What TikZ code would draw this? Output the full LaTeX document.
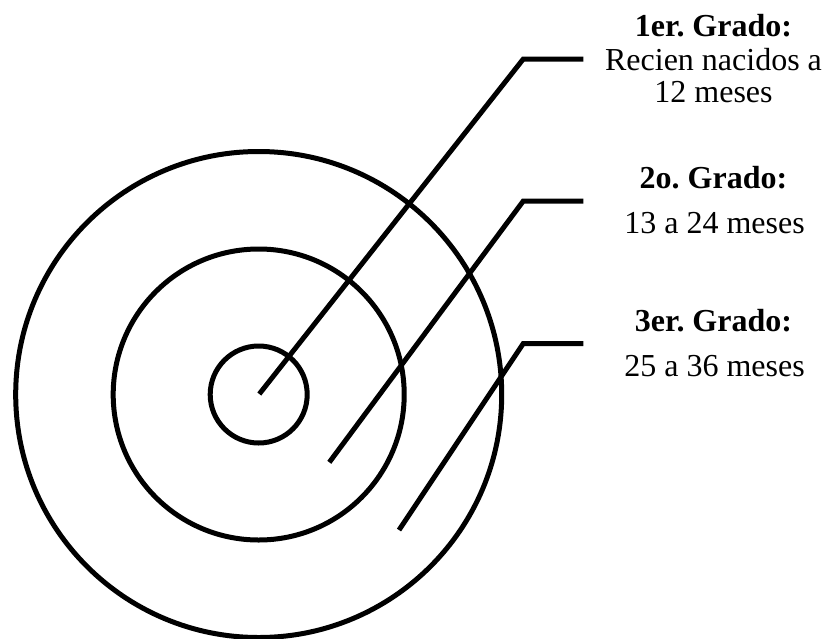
\documentclass[tikz,border=0pt]{standalone}
\usepackage{fontspec}
\setmainfont{Liberation Serif}
\frenchspacing
\begin{document}
\begin{tikzpicture}[x=1pt,y=-1pt,
  ring/.style={draw=black,line width=5pt},
  leader/.style={draw=black,line width=5pt},
  lbl/.style={anchor=base,inner sep=0pt,font=\fontsize{32}{34}\selectfont}]
\useasboundingbox (0,0) rectangle (825,638);
\coordinate (ctr) at (258.7,394.5);
\draw[ring] (ctr) circle[radius=243];
\draw[ring] (ctr) circle[radius=145.5];
\draw[ring] (ctr) circle[radius=48.5];
% leaders
\coordinate (s1) at (259.3,394);
\coordinate (k1) at (523.3,59);
\coordinate (e1) at (583.3,59);
\coordinate (s2) at (329.3,462.3);
\coordinate (k2) at (523.3,201);
\coordinate (e2) at (583.3,201);
\coordinate (s3) at (399,530);
\coordinate (k3) at (523.3,343.5);
\coordinate (e3) at (583.3,343.5);
\draw[leader] (s1) -- (k1) -- (e1);
\draw[leader] (s2) -- (k2) -- (e2);
\draw[leader] (s3) -- (k3) -- (e3);
% labels
\node[lbl] (t1a) at (713.5,36) {\textbf{1er. Grado:}};
\node[lbl] (t1b) at (713.5,70) {Recien nacidos a};
\node[lbl] (t1c) at (713.5,102) {12 meses};
\node[lbl] (t2a) at (713.5,188.3) {\textbf{2o. Grado:}};
\node[lbl] (t2b) at (714.5,233.3) {13 a 24 meses};
\node[lbl] (t3a) at (713.5,331) {\textbf{3er. Grado:}};
\node[lbl] (t3b) at (714.5,376.7) {25 a 36 meses};
\end{tikzpicture}
\end{document}
